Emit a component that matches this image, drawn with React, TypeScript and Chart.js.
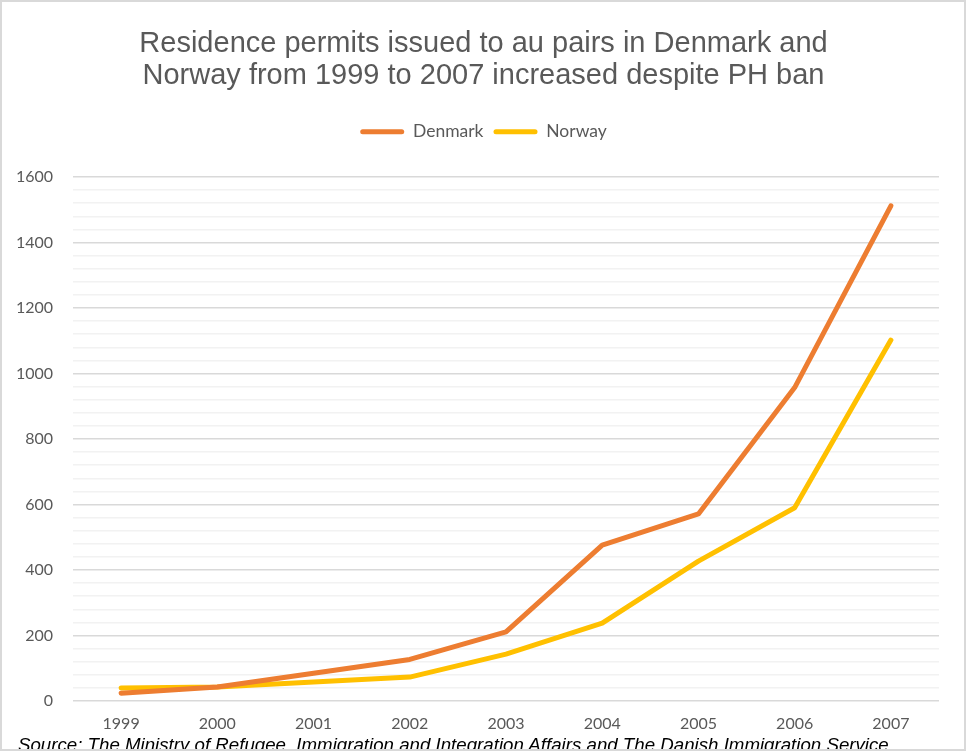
import React, { useEffect, useRef } from "react";
import { Chart, registerables } from "chart.js";

Chart.register(...registerables);

const years = ["1999", "2000", "2001", "2002", "2003", "2004", "2005", "2006", "2007"];
const denmark = [24, 43, 85, 127, 211, 476, 571, 957, 1512];
const norway = [40, 43, 58, 73, 143, 238, 427, 590, 1102];
const titleLines = [
  "Residence permits issued to au pairs in Denmark and",
  "Norway from 1999 to 2007 increased despite PH ban",
];
const sourceText =
  "Source: The Ministry of Refugee, Immigration and Integration Affairs and The Danish Immigration Service";

const legendSpace = {
  id: "legendSpace",
  beforeInit(chart: any) {
    const legend = chart.legend;
    if (!legend) return;
    const origFit = legend.fit;
    legend.fit = function () {
      origFit.call(this);
      this.height += 26.5;
    };
  },
  afterLayout(chart: any) {
    const full = chart.width;
    const boxes = [chart.titleBlock, chart.legend];
    boxes.forEach((b: any) => {
      if (!b) return;
      b.left = 0;
      b.right = full;
      b.width = full;
    });
  },
};

export default function App() {
  const ref = useRef<HTMLCanvasElement | null>(null);
  useEffect(() => {
    if (!ref.current) return;
    const chart = new Chart(ref.current, {
      type: "line",
      data: {
        labels: years,
        datasets: [
          {
            label: "Denmark",
            data: denmark,
            borderColor: "#ED7D31",
            backgroundColor: "#ED7D31",
            borderWidth: 5,
            pointRadius: 0,
            borderCapStyle: "round",
            borderJoinStyle: "round",
            tension: 0,
          },
          {
            label: "Norway",
            data: norway,
            borderColor: "#FFC000",
            backgroundColor: "#FFC000",
            borderWidth: 5,
            pointRadius: 0,
            borderCapStyle: "round",
            borderJoinStyle: "round",
            tension: 0,
          },
        ],
      },
      plugins: [legendSpace],
      options: {
        responsive: false,
        animation: false,
        layout: { padding: { top: 0, right: 28, bottom: 0, left: 0 } },
        plugins: {
          tooltip: { enabled: false },
          title: {
            display: true,
            text: titleLines,
            color: "#595959",
            font: { family: "'Liberation Sans', Arial, sans-serif", size: 29, weight: "normal", lineHeight: 1.103 },
            padding: { top: 28, bottom: 21 },
          },
          legend: {
            display: true,
            position: "top",
            labels: {
              color: "#595959",
              font: { family: "Lato, sans-serif", size: 17.5 },
              boxWidth: 44,
              boxHeight: 5,
              padding: 10,
              generateLabels(c: any) {
                const items = Chart.defaults.plugins.legend.labels.generateLabels(c);
                return items.map((it: any) => ({ ...it, lineWidth: 0, borderRadius: 2.5 }));
              },
            },
          },
        },
        scales: {
          x: {
            offset: true,
            grid: { display: false, drawTicks: false },
            border: { display: false },
            ticks: {
              color: "#595959",
              font: { family: "Lato, sans-serif", size: 16 },
              padding: 13,
              maxRotation: 0,
            },
            afterFit(scale: any) {
              scale.height = 50;
            },
          },
          y: {
            min: 0,
            max: 1600,
            border: { display: false },
            grid: {
              drawTicks: false,
              color: (ctx: any) => (ctx.tick && ctx.tick.value % 200 === 0 ? "#d9d9d9" : "#f2f2f2"),
              lineWidth: 1.5,
            },
            ticks: {
              stepSize: 40,
              autoSkip: false,
              color: "#595959",
              font: { family: "Lato, sans-serif", size: 16 },
              padding: 20,
              callback: (v: any) => (Number(v) % 200 === 0 ? String(v) : ""),
            },
            afterFit(scale: any) {
              scale.width = 73;
            },
          },
        },
      },
    } as any);
    return () => chart.destroy();
  }, []);

  return (
    <div style={{ position: "absolute", left: 0, top: 0, width: 967, height: 751, overflow: "hidden", background: "#fff" }}>
      <canvas ref={ref} width={967} height={751} style={{ position: "absolute", left: 0, top: 0 }} />
      <div
        style={{
          position: "absolute",
          left: 18,
          top: 734,
          whiteSpace: "nowrap",
          fontFamily: "'Liberation Sans', Arial, sans-serif",
          fontStyle: "italic",
          fontSize: 18.7,
          lineHeight: "normal",
          color: "#000",
        }}
      >
        {sourceText}
      </div>
      <div
        style={{
          position: "absolute",
          left: 0,
          top: 0,
          width: 966,
          height: 751,
          boxSizing: "border-box",
          border: "2px solid #d9d9d9",
          pointerEvents: "none",
        }}
      />
    </div>
  );
}
